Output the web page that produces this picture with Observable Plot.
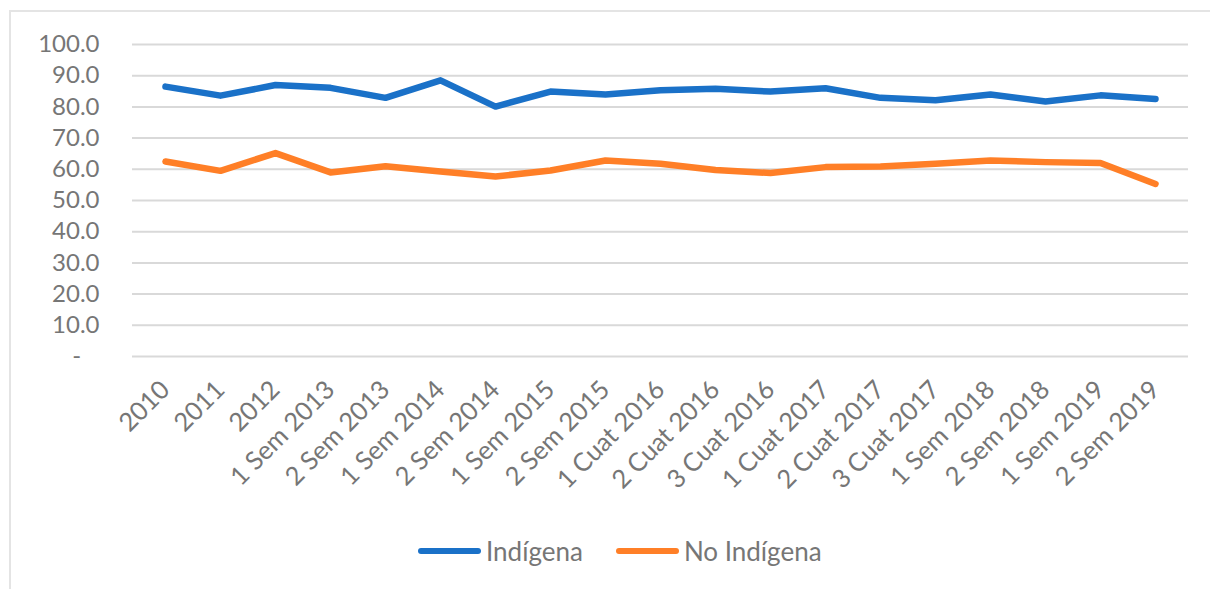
<!DOCTYPE html>
<html>
<head>
<meta charset="utf-8">
<script src="https://cdn.jsdelivr.net/npm/d3@7"></script>
<script src="https://cdn.jsdelivr.net/npm/@observablehq/plot@0.6"></script>
<style>
  html, body { margin: 0; padding: 0; background: #fff; width: 1210px; height: 589px; overflow: hidden; }
  #frame { position: absolute; left: 9px; top: 10px; width: 1230px; height: 620px; border: 2px solid #e4e4e4; box-sizing: border-box; }
  #chart { position: absolute; left: 0; top: 0; }
  #legend { position: absolute; left: 418px; top: 533px; height: 36px; display: flex; align-items: center; font-family: Lato, "Open Sans", sans-serif; font-size: 26px; color: #767676; }
  .item { display: flex; align-items: center; margin-right: 33px; }
  .swatch { width: 63px; height: 6px; border-radius: 3px; margin-right: 5px; }
</style>
</head>
<body>
<div id="frame"></div>
<div id="chart"></div>
<div id="legend"></div>
<script>
const categories = ["2010","2011","2012","1 Sem 2013","2 Sem 2013","1 Sem 2014","2 Sem 2014","1 Sem 2015","2 Sem 2015","1 Cuat 2016","2 Cuat 2016","3 Cuat 2016","1 Cuat 2017","2 Cuat 2017","3 Cuat 2017","1 Sem 2018","2 Sem 2018","1 Sem 2019","2 Sem 2019"];
const indigena = [86.5,83.6,87.0,86.1,82.9,88.5,80.1,84.9,84.0,85.3,85.8,84.9,86.0,82.9,82.1,84.0,81.7,83.7,82.5];
const noIndigena = [62.5,59.5,65.2,59.0,61.0,59.3,57.7,59.6,62.8,61.8,59.8,58.8,60.7,60.9,61.8,62.8,62.3,62.0,55.3];
const seriesNames = ["Indígena","No Indígena"];
const seriesColors = ["#1a71c8","#ff7f27"];
const yTicks = [0,10,20,30,40,50,60,70,80,90,100];

const data = [];
categories.forEach((c, i) => {
  data.push({cat: c, value: indigena[i], serie: seriesNames[0]});
  data.push({cat: c, value: noIndigena[i], serie: seriesNames[1]});
});

const chart = Plot.plot({
  width: 1210,
  height: 520,
  marginLeft: 132,
  marginRight: 22,
  marginTop: 44,
  marginBottom: 164,
  style: { fontFamily: "Lato, 'Open Sans', sans-serif", fontSize: "24px", color: "#767676", background: "transparent" },
  x: { type: "point", domain: categories, padding: 0.5 },
  y: { domain: [0, 100] },
  color: { domain: seriesNames, range: seriesColors },
  marks: [
    Plot.gridY(yTicks, { stroke: "#d9d9d9", strokeOpacity: 1, strokeWidth: 2 }),
    Plot.axisY(yTicks, { tickSize: 0, tickPadding: 33, label: null, fill: "#767676",
      tickFormat: d => d === 0 ? "-\u00a0\u00a0\u00a0" : d.toFixed(1) }),
    Plot.axisX({ tickSize: 0, tickRotate: -45, tickPadding: 29, dx: 0, fontSize: 25.5, label: null, fill: "#767676" }),
    Plot.line(data, { x: "cat", y: "value", z: "serie", stroke: "serie", strokeWidth: 6.5, strokeLinejoin: "round", strokeLinecap: "round" })
  ]
});
document.getElementById("chart").appendChild(chart);

const legend = document.getElementById("legend");
seriesNames.forEach((n, i) => {
  const item = document.createElement("div");
  item.className = "item";
  const sw = document.createElement("div");
  sw.className = "swatch";
  sw.style.background = seriesColors[i];
  const t = document.createElement("span");
  t.textContent = n;
  item.appendChild(sw);
  item.appendChild(t);
  legend.appendChild(item);
});
</script>
</body>
</html>
